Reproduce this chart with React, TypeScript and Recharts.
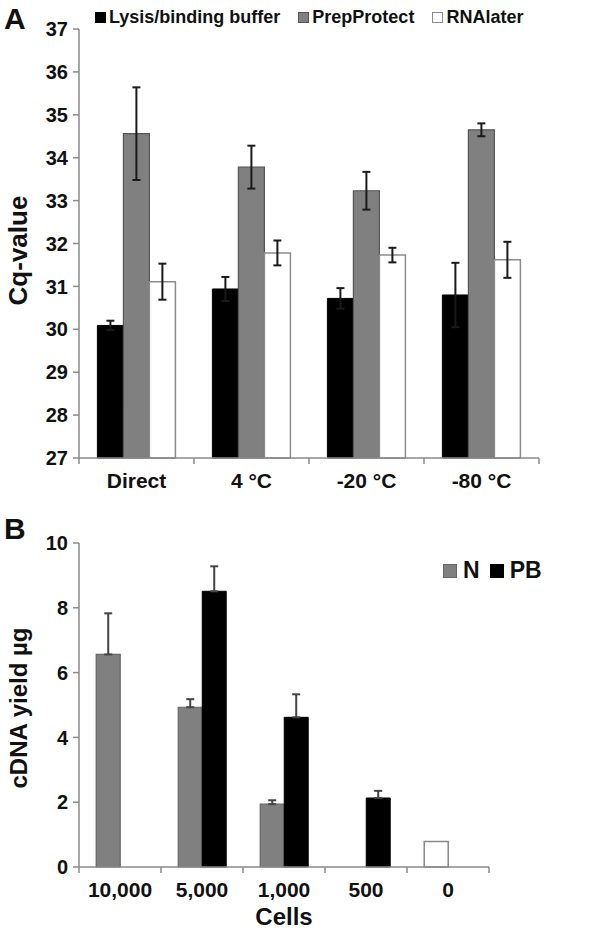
import React from 'react';
import { BarChart, Bar, XAxis, YAxis, ErrorBar, Legend, Cell } from 'recharts';

// ---------- Panel A data ----------
const conditions = ['Direct', '4 °C', '-20 °C', '-80 °C'];
const lysisValues = [30.09, 30.94, 30.72, 30.8];
const lysisErrors = [0.11, 0.28, 0.24, 0.75];
const prepValues = [34.56, 33.78, 33.23, 34.65];
const prepErrors = [1.08, 0.5, 0.44, 0.15];
const rnaValues = [31.11, 31.78, 31.73, 31.62];
const rnaErrors = [0.42, 0.29, 0.17, 0.42];
const cqTicks = [27, 28, 29, 30, 31, 32, 33, 34, 35, 36, 37];

// ---------- Panel B data ----------
const cellCounts = ['10,000', '5,000', '1,000', '500', '0'];
const nValues: (number | null)[] = [6.56, 4.93, 1.94, null, 0.79];
const nUpperErrors: (number | null)[] = [1.27, 0.25, 0.12, null, null];
const pbValues: (number | null)[] = [null, 8.51, 4.62, 2.13, null];
const pbUpperErrors: (number | null)[] = [null, 0.77, 0.71, 0.22, null];
const yieldTicks = [0, 2, 4, 6, 8, 10];

const dataA = conditions.map((c, i) => ({
  cond: c,
  lysis: lysisValues[i],
  lysisErr: lysisErrors[i],
  prep: prepValues[i],
  prepErr: prepErrors[i],
  rna: rnaValues[i],
  rnaErr: rnaErrors[i],
}));

const dataB = cellCounts.map((c, i) => ({
  cells: c,
  N: nValues[i],
  NErr: nUpperErrors[i] == null ? null : [0, nUpperErrors[i]],
  PB: pbValues[i],
  PBErr: pbUpperErrors[i] == null ? null : [0, pbUpperErrors[i]],
}));

const FONT = '"Liberation Sans", Arial, Helvetica, sans-serif';
const AXIS = '#8a8a8a';
const TEXT = '#111';
const GRAY = '#808080';

const seriesStyle: Record<string, { fill: string; stroke: string }> = {
  lysis: { fill: '#000', stroke: '#000' },
  prep: { fill: GRAY, stroke: '#555' },
  rna: { fill: '#fff', stroke: '#8c8c8c' },
  N: { fill: GRAY, stroke: '#666' },
  PB: { fill: '#000', stroke: '#000' },
};

const BoundaryTick = (props: any) => {
  const { x, y, payload, index, visibleTicksCount, width, fontSize } = props;
  let band = Number(width) / Number(visibleTicksCount);
  if (!Number.isFinite(band) || band <= 0) band = (payload.offset || 0) * 2;
  const left = x - band / 2;
  const right = x + band / 2;
  return (
    <g>
      <line x1={left} y1={y} x2={left} y2={y + 6} stroke={AXIS} strokeWidth={1.5} />
      {index === visibleTicksCount - 1 && (
        <line x1={right} y1={y} x2={right} y2={y + 6} stroke={AXIS} strokeWidth={1.5} />
      )}
      <text x={x} y={y + 30} textAnchor="middle" fontSize={fontSize} fontWeight="bold" fill={TEXT} fontFamily={FONT}>
        {payload.value}
      </text>
    </g>
  );
};

const VLabel = (props: any) => {
  const { viewBox, text, shift, size, dxPos } = props;
  const cx = viewBox.x + dxPos;
  const cy = viewBox.y + viewBox.height / 2 + shift;
  return (
    <text
      x={cx}
      y={cy}
      transform={`rotate(-90, ${cx}, ${cy})`}
      textAnchor="middle"
      dominantBaseline="central"
      fontSize={size}
      fontWeight="bold"
      fill={TEXT}
      fontFamily={FONT}
    >
      {text}
    </text>
  );
};

const HLabel = (props: any) => {
  const { viewBox, text, baseline, size } = props;
  const cx = viewBox.x + viewBox.width / 2;
  return (
    <text x={cx} y={viewBox.y + baseline} textAnchor="middle" fontSize={size} fontWeight="bold" fill={TEXT} fontFamily={FONT}>
      {text}
    </text>
  );
};

const makeLegend = (box: number, fontSize: number, gap: number, textGap: number) => (props: any) => {
  const { payload } = props;
  return (
    <div style={{ display: 'flex', alignItems: 'center', gap, fontFamily: FONT, whiteSpace: 'nowrap' }}>
      {(payload || []).map((entry: any) => {
        const st = seriesStyle[entry.dataKey as string] || { fill: entry.color, stroke: entry.color };
        return (
          <div key={String(entry.dataKey)} style={{ display: 'flex', alignItems: 'center' }}>
            <span
              style={{
                display: 'inline-block',
                width: box,
                height: box,
                boxSizing: 'border-box',
                background: st.fill,
                border: `1.5px solid ${st.stroke}`,
                marginRight: textGap,
              }}
            />
            <span style={{ fontSize, fontWeight: 'bold', color: TEXT, lineHeight: 1 }}>{entry.value}</span>
          </div>
        );
      })}
    </div>
  );
};

const legendA = makeLegend(11, 18, 18, 3);
const legendB = makeLegend(14, 23, 10, 6);

export default function App() {
  return (
    <div
      style={{
        position: 'absolute',
        left: 0,
        top: 0,
        width: 600,
        height: 933,
        background: '#fff',
        fontFamily: FONT,
        overflow: 'hidden',
      }}
    >
      <div style={{ position: 'absolute', left: 4, top: 2, fontSize: 30, fontWeight: 'bold', lineHeight: 1.1, color: TEXT }}>A</div>
      <div style={{ position: 'absolute', left: 4, top: 512, fontSize: 30, fontWeight: 'bold', lineHeight: 1.1, color: TEXT }}>B</div>

      <div style={{ position: 'absolute', left: 0, top: 0 }}>
        <BarChart
          width={600}
          height={500}
          data={dataA}
          margin={{ top: 29, right: 61, left: 0, bottom: 0 }}
          barCategoryGap="16%"
          barGap={0}
        >
          <XAxis
            dataKey="cond"
            height={42}
            tickSize={0}
            tickMargin={0}
            tickLine={false}
            axisLine={{ stroke: AXIS, strokeWidth: 1.5 }}
            tick={<BoundaryTick fontSize={21} />}
            interval={0}
          />
          <YAxis
            width={79}
            domain={[27, 37]}
            ticks={cqTicks}
            interval={0}
            tickSize={6}
            tickMargin={5}
            axisLine={{ stroke: AXIS, strokeWidth: 1.5 }}
            tickLine={{ stroke: AXIS, strokeWidth: 1.5 }}
            tick={{ fontSize: 20, fontWeight: 'bold', fill: TEXT, fontFamily: FONT }}
            label={<VLabel text="Cq-value" shift={7} size={26} dxPos={18} />}
          />
          <Legend
            verticalAlign="middle"
            align="center"
            content={legendA}
            wrapperStyle={{ top: 8, left: 95, width: 'auto' }}
          />
          <Bar dataKey="lysis" name="Lysis/binding buffer" fill={seriesStyle.lysis.fill} stroke={seriesStyle.lysis.stroke} isAnimationActive={false}>
            <ErrorBar dataKey="lysisErr" width={4} strokeWidth={2} stroke="#1a1a1a" />
          </Bar>
          <Bar dataKey="prep" name="PrepProtect" fill={seriesStyle.prep.fill} stroke={seriesStyle.prep.stroke} strokeWidth={1.2} isAnimationActive={false}>
            <ErrorBar dataKey="prepErr" width={4} strokeWidth={2} stroke="#1a1a1a" />
          </Bar>
          <Bar dataKey="rna" name="RNAlater" fill={seriesStyle.rna.fill} stroke={seriesStyle.rna.stroke} strokeWidth={1.5} isAnimationActive={false}>
            <ErrorBar dataKey="rnaErr" width={4} strokeWidth={2} stroke="#1a1a1a" />
          </Bar>
        </BarChart>
      </div>

      <div style={{ position: 'absolute', left: 0, top: 505 }}>
        <BarChart
          width={600}
          height={428}
          data={dataB}
          margin={{ top: 38, right: 111, left: 0, bottom: 0 }}
          barCategoryGap="21%"
          barGap={0}
        >
          <XAxis
            dataKey="cells"
            height={66}
            tickSize={0}
            tickMargin={0}
            tickLine={false}
            axisLine={{ stroke: AXIS, strokeWidth: 1.5 }}
            tick={<BoundaryTick fontSize={21} />}
            interval={0}
            label={<HLabel text="Cells" baseline={58} size={24} />}
          />
          <YAxis
            width={79}
            domain={[0, 10]}
            ticks={yieldTicks}
            interval={0}
            tickSize={6}
            tickMargin={5}
            axisLine={{ stroke: AXIS, strokeWidth: 1.5 }}
            tickLine={{ stroke: AXIS, strokeWidth: 1.5 }}
            tick={{ fontSize: 20, fontWeight: 'bold', fill: TEXT, fontFamily: FONT }}
            label={<VLabel text="cDNA yield µg" shift={3} size={24} dxPos={18} />}
          />
          <Legend
            verticalAlign="middle"
            align="center"
            content={legendB}
            wrapperStyle={{ top: 54, left: 443, width: 'auto' }}
          />
          <Bar dataKey="N" name="N" fill={seriesStyle.N.fill} stroke={seriesStyle.N.stroke} strokeWidth={1.2} isAnimationActive={false}>
            {dataB.map((d, i) => (
              <Cell key={d.cells} fill={i === 4 ? '#fff' : seriesStyle.N.fill} stroke={i === 4 ? '#888' : seriesStyle.N.stroke} strokeWidth={i === 4 ? 1.5 : 1.2} />
            ))}
            <ErrorBar dataKey="NErr" width={4} strokeWidth={2} stroke="#444" />
          </Bar>
          <Bar dataKey="PB" name="PB" fill={seriesStyle.PB.fill} stroke={seriesStyle.PB.stroke} isAnimationActive={false}>
            <ErrorBar dataKey="PBErr" width={4} strokeWidth={2} stroke="#444" />
          </Bar>
        </BarChart>
      </div>
    </div>
  );
}
